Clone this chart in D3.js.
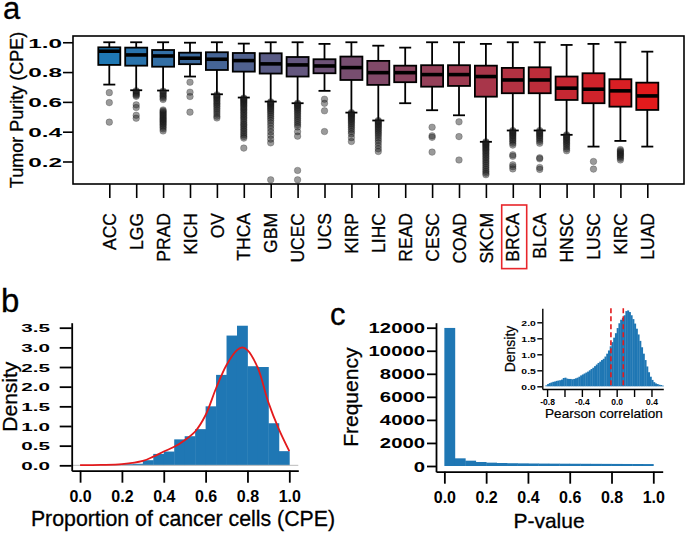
<!DOCTYPE html>
<html><head><meta charset="utf-8">
<script src="https://cdn.jsdelivr.net/npm/d3@7"></script>
<style>
html,body{margin:0;padding:0;background:#fff;}
svg{display:block;}
</style></head><body>
<svg id="chart" width="685" height="533"></svg>
<script>
// ---------------- DATA ----------------
// Panel a: tumor purity boxplots
const categories = ["ACC","LGG","PRAD","KICH","OV","THCA","GBM","UCEC","UCS","KIRP","LIHC","READ","CESC","COAD","SKCM","BRCA","BLCA","HNSC","LUSC","KIRC","LUAD"];
const whiskerLow  = [0.716,0.678,0.676,0.770,0.651,0.629,0.602,0.591,0.674,0.528,0.475,0.591,0.544,0.510,0.332,0.408,0.408,0.379,0.300,0.338,0.300];
const lowerHinge  = [0.848,0.843,0.836,0.853,0.814,0.803,0.790,0.770,0.792,0.747,0.714,0.732,0.702,0.707,0.635,0.658,0.658,0.613,0.591,0.568,0.546];
const medians     = [0.940,0.915,0.908,0.893,0.886,0.877,0.855,0.848,0.841,0.830,0.796,0.796,0.783,0.783,0.770,0.747,0.747,0.692,0.685,0.674,0.640];
const upperHinge  = [0.966,0.964,0.948,0.930,0.933,0.928,0.926,0.901,0.886,0.904,0.875,0.843,0.846,0.846,0.843,0.828,0.832,0.770,0.792,0.752,0.729];
const whiskerHigh = [1.000,1.000,1.000,0.997,1.000,0.991,1.000,1.000,0.989,1.000,0.977,0.964,1.000,1.000,0.989,1.000,1.000,0.982,0.989,1.000,0.937];
const outliers = [
  [0.662,0.595,0.464],
  [0.675,0.668,0.66,0.652,0.645,0.637,0.58,0.562,0.51,0.49],
  [0.672,0.664,0.655,0.645,0.636,0.626,0.616,0.546,0.538,0.53,0.522,0.514,0.506,0.498,0.49,0.482,0.474,0.466,0.458,0.45,0.44,0.43,0.418,0.405],
  [0.732,0.665,0.636,0.531],
  [0.648,0.641,0.634,0.627,0.619,0.61,0.6,0.59,0.58,0.57,0.558,0.545,0.532,0.518,0.504,0.492],
  [0.626,0.62,0.614,0.607,0.6,0.593,0.585,0.577,0.568,0.559,0.55,0.54,0.53,0.519,0.508,0.497,0.486,0.474,0.462,0.45,0.44,0.428,0.416,0.404,0.392,0.38,0.368,0.357,0.29],
  [0.6,0.594,0.588,0.581,0.574,0.566,0.558,0.549,0.539,0.528,0.516,0.503,0.49,0.475,0.458,0.44,0.42,0.398,0.375,0.35,0.325,0.077],
  [0.591,0.585,0.578,0.571,0.563,0.554,0.545,0.535,0.524,0.512,0.5,0.487,0.474,0.46,0.446,0.432,0.4,0.37,0.14,0.077],
  [0.618,0.59,0.54,0.401],
  [0.528,0.522,0.516,0.51,0.503,0.496,0.488,0.48,0.471,0.462,0.452,0.44,0.428,0.415,0.4,0.385,0.36,0.334],
  [0.475,0.468,0.461,0.453,0.445,0.437,0.428,0.418,0.408,0.397,0.385,0.372,0.358,0.342,0.325,0.305,0.285,0.267],
  [],
  [0.43,0.372,0.362,0.263],
  [0.466,0.367,0.21],
  [0.332,0.326,0.32,0.313,0.306,0.298,0.29,0.282,0.273,0.264,0.254,0.244,0.233,0.222,0.21,0.198,0.186,0.173,0.16,0.147,0.134,0.122,0.111],
  [0.408,0.401,0.394,0.387,0.38,0.372,0.364,0.355,0.345,0.335,0.323,0.31,0.245,0.235,0.178,0.165,0.15],
  [0.408,0.4,0.392,0.384,0.376,0.367,0.357,0.347,0.335,0.322,0.225,0.218,0.16,0.147],
  [0.379,0.372,0.365,0.357,0.349,0.34,0.33,0.32,0.31,0.298,0.285,0.272],
  [0.2,0.149],
  [0.28,0.272,0.264,0.256,0.248,0.24,0.232,0.222,0.21],
  []
];
const yTicksA = [0.2,0.4,0.6,0.8,1.0];
const highlighted = "BRCA";

// Panel b: histogram of CPE (density) + density curve
const cpeBinStart = [0.10,0.15,0.20,0.25,0.30,0.35,0.40,0.45,0.50,0.55,0.60,0.65,0.70,0.75,0.80,0.85,0.90,0.95];
const cpeDensity  = [0.03,0.02,0.03,0.04,0.13,0.29,0.35,0.66,0.74,0.92,1.50,2.30,3.30,3.55,2.52,2.50,1.07,0.36];
const cpeBinWidth = 0.05;
const kdeX = [0.0,0.1,0.2,0.3,0.35,0.4,0.45,0.5,0.55,0.6,0.65,0.7,0.75,0.775,0.8,0.85,0.9,0.95,1.0];
const kdeY = [0.005,0.01,0.03,0.11,0.22,0.35,0.47,0.64,0.86,1.28,1.96,2.55,2.93,3.0,2.93,2.47,1.6,0.92,0.36];
const xTicksB = [0,0.2,0.4,0.6,0.8,1.0];
const yTicksB = [0,0.5,1.0,1.5,2.0,2.5,3.0,3.5];

// Panel c: p-value histogram (frequency)
const pBinStart = [0.00,0.05,0.10,0.15,0.20,0.25,0.30,0.35,0.40,0.45,0.50,0.55,0.60,0.65,0.70,0.75,0.80,0.85,0.90,0.95];
const pFreq     = [11980,665,462,347,290,260,240,228,218,210,205,200,196,192,188,184,180,176,172,168];
const pBinWidth = 0.05;
const xTicksC = [0,0.2,0.4,0.6,0.8,1.0];
const yTicksC = [0,2000,4000,6000,8000,10000,12000];

// Inset: Pearson correlation density histogram
const rBinStart = [-0.82,-0.80,-0.78,-0.76,-0.74,-0.72,-0.70,-0.68,-0.66,-0.64,-0.62,-0.60,-0.58,-0.56,-0.54,-0.52,-0.50,-0.48,-0.46,-0.44,
  -0.42,-0.40,-0.38,-0.36,-0.34,-0.32,-0.30,-0.28,-0.26,-0.24,-0.22,-0.20,-0.18,-0.16,-0.14,-0.12,-0.10,-0.08,-0.06,-0.04,-0.02,
  0.00,0.02,0.04,0.06,0.08,0.10,0.12,0.14,0.16,0.18,0.20,0.22,0.24,0.26,0.28,0.30,0.32,0.34,0.36,0.38,0.40,0.42,0.44,0.46,0.48,0.50,0.52];
const rDensity = [0.03,0.07,0.10,0.12,0.14,0.15,0.17,0.18,0.19,0.21,0.26,0.27,0.24,0.23,0.23,0.22,0.23,0.25,0.27,0.30,
  0.34,0.37,0.40,0.43,0.46,0.50,0.54,0.58,0.63,0.68,0.73,0.77,0.82,0.86,0.93,1.02,1.12,1.25,1.38,1.52,1.66,
  1.82,1.97,2.08,2.14,2.22,2.35,2.37,2.32,2.22,2.10,1.96,1.80,1.62,1.42,1.22,1.02,0.82,0.62,0.44,0.30,0.20,0.13,0.09,0.07,0.05,0.04,0.02];
const rBinWidth = 0.02;
const rMarkers = [-0.066, 0.076];
const xTicksI = [-0.8,-0.6,-0.4,-0.2,0.0,0.2,0.4];
const xLabelsI = [-0.8,-0.4,0.0,0.4];
const yTicksI = [0,0.5,1.0,1.5,2.0];

// ---------------- DRAW ----------------
const FONT = '"Liberation Sans", Arial, Helvetica, sans-serif';
const BLUE = "#1f77b4", RED = "#e31a1c";
const svg = d3.select("#chart").attr("font-family", FONT);

function styleAxis(g, sw) {
  g.attr("font-family", FONT).attr("font-size", null);
  g.selectAll("line").attr("stroke", "#000").attr("stroke-width", sw);
  g.selectAll(".domain").attr("stroke", "#000").attr("stroke-width", sw);
  g.selectAll("text").attr("fill", "#000");
}
function stretchY(g, offset, size, sx) {
  g.selectAll("text").attr("x", 0).attr("dy", "0.36em").attr("text-anchor", "end")
    .attr("transform", `translate(${-offset},0) scale(${sx},1)`)
    .style("font-size", size + "px").style("font-weight", "bold");
}
function bottomLabels(g, base, size) {
  g.selectAll("text").attr("y", base).attr("dy", null)
    .style("font-size", size + "px").style("font-weight", "bold");
}
function heavy(sel, w) {
  return sel.attr("fill", "#000").attr("stroke", "#000").attr("stroke-width", w).attr("paint-order", "stroke");
}
function vTitle(x, y, txt, size) {
  return heavy(svg.append("text").attr("transform", `translate(${x},${y}) rotate(-90)`)
    .attr("text-anchor", "middle").style("font-size", size + "px").text(txt), 0.3);
}

// ===== Panel a =====
const xA = d3.scalePoint().domain(categories).range([109.3, 647.3]);
const yA = d3.scaleLinear().domain([0.049, 1.042]).range([184, 36]);
const colA = d3.interpolateRgb("#1F78B4", "#E31A1C");
const gA = svg.append("g");
const boxW = 22, capW = 12;
categories.forEach((c, i) => {
  const cx = xA(c);
  const g = gA.append("g");
  g.append("line").attr("x1", cx).attr("x2", cx).attr("y1", yA(whiskerHigh[i])).attr("y2", yA(upperHinge[i]))
    .attr("stroke", "#000").attr("stroke-width", 1.8);
  g.append("line").attr("x1", cx).attr("x2", cx).attr("y1", yA(lowerHinge[i])).attr("y2", yA(whiskerLow[i]))
    .attr("stroke", "#000").attr("stroke-width", 1.8);
  [whiskerHigh[i], whiskerLow[i]].forEach(v => {
    g.append("line").attr("x1", cx - capW / 2).attr("x2", cx + capW / 2).attr("y1", yA(v)).attr("y2", yA(v))
      .attr("stroke", "#000").attr("stroke-width", 1.8);
  });
  g.append("rect").attr("x", cx - boxW / 2).attr("width", boxW)
    .attr("y", yA(upperHinge[i])).attr("height", yA(lowerHinge[i]) - yA(upperHinge[i]))
    .attr("fill", colA(i / (categories.length - 1))).attr("stroke", "#000").attr("stroke-width", 1.8);
  g.append("line").attr("x1", cx - boxW / 2).attr("x2", cx + boxW / 2).attr("y1", yA(medians[i])).attr("y2", yA(medians[i]))
    .attr("stroke", "#000").attr("stroke-width", 3.6);
  g.selectAll("circle.o").data(outliers[i]).enter().append("circle")
    .attr("cx", cx).attr("cy", d => yA(d)).attr("r", 3.3)
    .attr("fill", "rgba(30,30,30,0.45)").attr("stroke", "rgba(0,0,0,0.25)").attr("stroke-width", 0.8);
});
gA.append("rect").attr("x", 73).attr("y", 36).attr("width", 611).attr("height", 148)
  .attr("fill", "none").attr("stroke", "#000").attr("stroke-width", 1.6);

const axAy = gA.append("g").attr("transform", "translate(73,0)")
  .call(d3.axisLeft(yA).tickValues(yTicksA).tickFormat(d3.format(".1f")).tickSize(10).tickSizeOuter(0));
axAy.select(".domain").remove();
styleAxis(axAy, 1.6);
stretchY(axAy, 11, 13.5, 1.8);

const axAx = gA.append("g").attr("transform", "translate(0,184)")
  .call(d3.axisBottom(xA).tickSize(14).tickSizeOuter(0));
axAx.select(".domain").remove();
styleAxis(axAx, 1.6);
heavy(axAx.selectAll("text"), 0.3).attr("y", 0).attr("x", -29).attr("dy", "0.35em")
  .attr("transform", "rotate(-90)").attr("text-anchor", "end").style("font-size", "17.5px");

// highlight box around BRCA label
axAx.selectAll(".tick").filter(d => d === highlighted).each(function () {
  const t = d3.select(this).select("text");
  const len = t.node().getComputedTextLength();
  d3.select(this).append("rect").attr("x", -11.6).attr("width", 25)
    .attr("y", 29 - 8).attr("height", len + 15)
    .attr("fill", "none").attr("stroke", "#e8262b").attr("stroke-width", 1.6);
});
vTitle(22.5, 110, "Tumor Purity (CPE)", 18);
heavy(svg.append("text").attr("x", 3).attr("y", 19).style("font-size", "31px").text("a"), 0.3);

// ===== Panel b =====
const xB = d3.scaleLinear().domain([-0.04, 1.043]).range([71.7, 298.3]);
const yB = d3.scaleLinear().domain([-0.137, 3.627]).range([470.7, 322.7]);
const gB = svg.append("g");
gB.selectAll("rect.bar").data(cpeBinStart).enter().append("rect")
  .attr("x", d => xB(d)).attr("width", d => xB(d + cpeBinWidth) - xB(d) + 0.4)
  .attr("y", (d, i) => yB(cpeDensity[i])).attr("height", (d, i) => yB(0) - yB(cpeDensity[i]))
  .attr("fill", BLUE);
gB.append("line").attr("x1", xB.range()[0]).attr("x2", xB.range()[1]).attr("y1", yB(0)).attr("y2", yB(0))
  .attr("stroke", "#bbbbbb").attr("stroke-width", 1);
gB.append("path").datum(kdeX.map((x, i) => [x, kdeY[i]]))
  .attr("d", d3.line().x(d => xB(d[0])).y(d => yB(d[1])).curve(d3.curveCatmullRom))
  .attr("fill", "none").attr("stroke", RED).attr("stroke-width", 1.8);
const axBy = gB.append("g").attr("transform", `translate(${xB.range()[0]},0)`)
  .call(d3.axisLeft(yB).tickValues(yTicksB).tickFormat(d3.format(".1f")).tickSize(12).tickSizeOuter(0));
styleAxis(axBy, 1.8);
stretchY(axBy, 21.7, 11.8, 1.75);
const axBx = gB.append("g").attr("transform", `translate(0,${yB.range()[0]})`)
  .call(d3.axisBottom(xB).tickValues(xTicksB).tickFormat(d3.format(".1f")).tickSize(12).tickSizeOuter(0));
styleAxis(axBx, 1.8);
bottomLabels(axBx, 31, 16);
vTitle(16.5, 396.7, "Density", 21);
heavy(svg.append("text").attr("x", 183).attr("y", 526).attr("text-anchor", "middle").style("font-size", "21.3px")
  .text("Proportion of cancer cells (CPE)"), 0.3);
heavy(svg.append("text").attr("x", 1).attr("y", 312).style("font-size", "33px").text("b"), 0.3);

// ===== Panel c =====
const xC = d3.scaleLinear().domain([-0.04, 1.045]).range([436, 662.7]);
const yC = d3.scaleLinear().domain([-495, 12434]).range([471.7, 322.7]);
const gC = svg.append("g");
gC.selectAll("rect.bar").data(pBinStart).enter().append("rect")
  .attr("x", d => xC(d)).attr("width", d => xC(d + pBinWidth) - xC(d) + 0.4)
  .attr("y", (d, i) => yC(pFreq[i])).attr("height", (d, i) => yC(0) - yC(pFreq[i]))
  .attr("fill", BLUE);
const axCy = gC.append("g").attr("transform", `translate(${xC.range()[0]},0)`)
  .call(d3.axisLeft(yC).tickValues(yTicksC).tickFormat(d3.format("d")).tickSize(9).tickSizeOuter(0));
styleAxis(axCy, 1.8);
stretchY(axCy, 11, 14, 1.45);
const axCx = gC.append("g").attr("transform", `translate(0,${yC.range()[0]})`)
  .call(d3.axisBottom(xC).tickValues(xTicksC).tickFormat(d3.format(".1f")).tickSize(12).tickSizeOuter(0));
styleAxis(axCx, 1.8);
bottomLabels(axCx, 31, 16);
vTitle(358, 397.2, "Frequency", 21);
heavy(svg.append("text").attr("x", 549).attr("y", 528).attr("text-anchor", "middle").style("font-size", "21px").text("P-value"), 0.3);
heavy(svg.append("text").attr("x", 330).attr("y", 325).style("font-size", "31px").text("c"), 0.3);

// ===== Inset =====
const xI = d3.scaleLinear().domain([-0.855, 0.536]).range([542.3, 663.3]);
const yI = d3.scaleLinear().domain([-0.084, 2.4375]).range([389, 308.3]);
const gI = svg.append("g");
gI.selectAll("rect.bar").data(rBinStart).enter().append("rect")
  .attr("x", d => xI(d)).attr("width", d => xI(d + rBinWidth) - xI(d) + 0.3)
  .attr("y", (d, i) => yI(rDensity[i])).attr("height", (d, i) => yI(0) - yI(rDensity[i]))
  .attr("fill", BLUE);
gI.selectAll("line.mark").data(rMarkers).enter().append("line")
  .attr("x1", d => xI(d)).attr("x2", d => xI(d)).attr("y1", yI.range()[1]).attr("y2", yI(0))
  .attr("stroke", RED).attr("stroke-width", 1.6).attr("stroke-dasharray", "5,3");
const axIy = gI.append("g").attr("transform", `translate(${xI.range()[0]},0)`)
  .call(d3.axisLeft(yI).tickValues(yTicksI).tickFormat(d3.format(".1f")).tickSize(5).tickSizeOuter(0));
styleAxis(axIy, 1.4);
stretchY(axIy, 6.5, 8, 1.3);
const axIx = gI.append("g").attr("transform", `translate(0,${yI.range()[0]})`)
  .call(d3.axisBottom(xI).tickValues(xTicksI)
    .tickFormat(d => xLabelsI.some(v => Math.abs(v - d) < 1e-9) ? d3.format(".1f")(d).replace("−", "-") : "")
    .tickSize(8).tickSizeOuter(0));
styleAxis(axIx, 1.4);
bottomLabels(axIx, 16, 8.5);
vTitle(515, 349, "Density", 14).attr("stroke-width", 0.2);
heavy(svg.append("text").attr("x", 604).attr("y", 418).attr("text-anchor", "middle").style("font-size", "13.6px")
  .text("Pearson correlation"), 0.2);
</script>
</body></html>
